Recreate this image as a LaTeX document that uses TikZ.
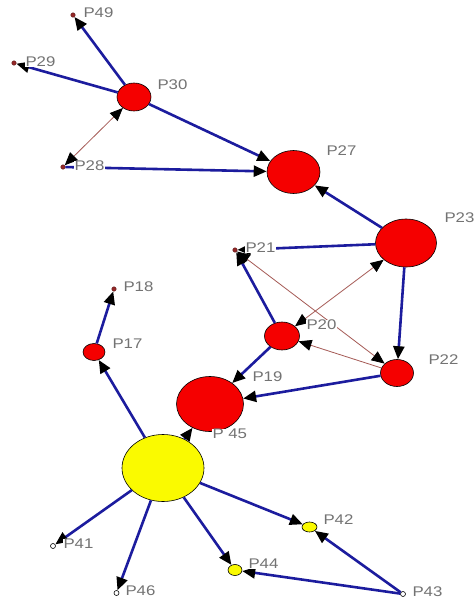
\documentclass[tikz,border=0pt]{standalone}
\usepackage{fontspec}
\setmainfont[FakeStretch=1.2]{Liberation Sans}
\usetikzlibrary{arrows.meta,shapes.geometric}
\definecolor{edgeblue}{RGB}{28,28,158}
\definecolor{thinred}{RGB}{165,90,85}
\definecolor{nodered}{RGB}{245,0,0}
\definecolor{nodeyel}{RGB}{250,250,0}
\definecolor{lblgray}{RGB}{115,115,115}
\definecolor{dotred}{RGB}{150,40,40}
\begin{document}
\begin{tikzpicture}[x=1pt,y=-1pt,
  >={Triangle[length=13pt,width=11pt,color=black]},
  rednode/.style={ellipse,draw=black,line width=0.6pt,fill=nodered,inner sep=0pt},
  yelnode/.style={ellipse,draw=black,line width=0.6pt,fill=nodeyel,inner sep=0pt},
  dotnode/.style={circle,draw=dotred!60!black,fill=dotred,inner sep=0pt,minimum size=4.5pt,line width=0.4pt},
  wdot/.style={circle,draw=black,fill=white,inner sep=0pt,minimum size=5pt,line width=0.6pt},
  blueline/.style={draw=edgeblue,line width=2.6pt,->},
  thinline/.style={draw=thinred,line width=0.8pt},
  lbl/.style={anchor=west,fill=white,inner sep=0.3pt,text=lblgray,font=\fontsize{14}{14}\selectfont}
]
\useasboundingbox[fill=white] (0,0) rectangle (475,603);

% nodes
\node[dotnode] (p49) at (73,15) {};
\node[dotnode] (p29) at (14,63) {};
\node[rednode,minimum width=34pt,minimum height=28pt] (p30) at (134,97) {};
\node[dotnode] (p28) at (63,167) {};
\node[rednode,minimum width=53pt,minimum height=43pt] (p27) at (293.5,172) {};
\node[rednode,minimum width=61pt,minimum height=48pt] (p23) at (406,243) {};
\node[dotnode] (p21) at (235,250) {};
\node[rednode,minimum width=35pt,minimum height=28pt] (p20) at (282,336) {};
\node[rednode,minimum width=33pt,minimum height=27pt] (p22) at (397,373) {};
\node[rednode,minimum width=67pt,minimum height=55pt] (p19) at (210,404) {};
\node[dotnode] (p18) at (114,289) {};
\node[rednode,minimum width=22pt,minimum height=17pt] (p17) at (94,352) {};
\node[yelnode,minimum width=82pt,minimum height=67pt] (p45) at (163,468) {};
\node[yelnode,minimum width=15pt,minimum height=10pt] (p42) at (309.5,527) {};
\node[yelnode,minimum width=14pt,minimum height=11pt] (p44) at (235,570) {};
\node[wdot] (p43) at (403,594) {};
\node[wdot] (p41) at (53,546) {};
\node[wdot] (p46) at (116.5,593) {};

% thick blue edges
\draw[blueline] (p30) -- (p49);
\draw[blueline] (p30) -- (p29);
\draw[blueline] (p30) -- (p27);
\draw[blueline] (p28) -- (p27);
\draw[blueline] (p23) -- (p27);
\draw[blueline] (p23) -- (p21);
\draw[blueline] (p23) -- (p22);
\draw[blueline] (p20) -- (p21);
\draw[blueline] (p20) -- (p19);
\draw[blueline] (p22) -- (p19);
\draw[blueline] (p45) -- (p19);
\draw[blueline] (p45) -- (p17);
\draw[blueline] (p17) -- (p18);
\draw[blueline] (p45) -- (p41);
\draw[blueline] (p45) -- (p46);
\draw[blueline] (p45) -- (p44);
\draw[blueline] (p45) -- (p42);
\draw[blueline] (p43) -- (p42);
\draw[blueline] (p43) -- (p44);

% thin reciprocal edges
\draw[thinline,<->] (p28) -- (p30);
\draw[thinline,<->] (p20) -- (p23);
\draw[thinline,<->] (p21) -- (p22);
\draw[thinline,->] (p22) -- (p20);

% labels
\node[lbl] (l49) at (83,13) {P49};
\node[lbl] (l29) at (25,62) {P29};
\node[lbl] (l30) at (157,85) {P30};
\node[lbl] (l28) at (74,166) {P28};
\node[lbl] (l27) at (326,151) {P27};
\node[lbl] (l23) at (444,218) {P23};
\node[lbl] (l21) at (245,248) {P21};
\node[lbl] (l20) at (306,325) {P20};
\node[lbl] (l22) at (428,360) {P22};
\node[lbl] (l19) at (252,377) {P19};
\node[lbl] (l18) at (123,287) {P18};
\node[lbl] (l17) at (112,344) {P17};
\node[lbl] (l45) at (212,434) {P 45};
\node[lbl] (l42) at (323,520) {P42};
\node[lbl] (l44) at (248,564) {P44};
\node[lbl] (l43) at (412,592) {P43};
\node[lbl] (l41) at (63,544) {P41};
\node[lbl] (l46) at (125,591) {P46};
\end{tikzpicture}
\end{document}
